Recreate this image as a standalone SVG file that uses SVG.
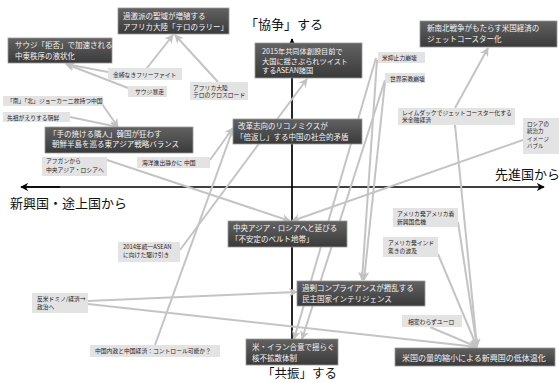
<svg xmlns="http://www.w3.org/2000/svg" width="559" height="383" viewBox="0 0 559 383">
<defs>
<linearGradient id="dg" x1="0" y1="0" x2="0" y2="1">
<stop offset="0" stop-color="#626262"/>
<stop offset="1" stop-color="#3a3a3a"/>
</linearGradient>
<marker id="ga" viewBox="0 0 10 10" refX="9" refY="5" markerWidth="9" markerHeight="9" markerUnits="userSpaceOnUse" orient="auto">
<path d="M0,0 L10,5 L0,10 L3,5 z" fill="#c2c2c2"/>
</marker>
<marker id="ka" viewBox="0 0 10 10" refX="9" refY="5" markerWidth="8" markerHeight="8" markerUnits="userSpaceOnUse" orient="auto">
<path d="M0,0 L10,5 L0,10 L3,5 z" fill="#000"/>
</marker>
</defs>
<style>
.dark{fill:url(#dg);stroke:#9a9a9a;stroke-width:0.8}
.light{fill:#e3e3e3}
.dt{font-family:"Noto Sans CJK JP","Noto Sans",sans-serif;font-size:7.5px;fill:#f4f4f4}
.lt{font-family:"Noto Sans CJK JP","Noto Sans",sans-serif;font-size:5.8px;fill:#222}
.ax{font-family:"Noto Sans CJK JP","Noto Sans",sans-serif;font-size:13px;fill:#111}
.conn line{stroke:#c4c4c4;stroke-width:2;marker-end:url(#ga)}
.axis line{stroke:#000;stroke-width:1.7}
</style>
<rect width="559" height="383" fill="#fff"/>

<g id="axes" class="axis">
<line x1="292" y1="365" x2="292" y2="39" marker-end="url(#ka)"/>
<line x1="24" y1="187" x2="544" y2="187" marker-end="url(#ka)"/>
<line x1="60" y1="187" x2="21" y2="187" marker-end="url(#ka)"/>
</g>
<text class="ax" x="245" y="29">「協争」する</text>
<text class="ax" x="262" y="378" style="font-size:12.5px">「共振」する</text>
<text class="ax" x="10" y="208">新興国・途上国から</text>
<text class="ax" x="495" y="179">先進国から</text>

<g id="connectors" class="conn">
<line x1="147" y1="68" x2="173" y2="35"/>
<line x1="218" y1="82" x2="175" y2="35"/>
<line x1="108" y1="72" x2="66" y2="64"/>
<line x1="128" y1="88" x2="66" y2="64"/>
<line x1="100" y1="101" x2="118" y2="127"/>
<line x1="70" y1="117" x2="118" y2="127"/>
<line x1="210" y1="160" x2="233" y2="128"/>
<line x1="155" y1="345" x2="233" y2="129"/>
<line x1="180" y1="250" x2="307" y2="79"/>
<line x1="107" y1="160" x2="290" y2="221"/>
<line x1="523" y1="140" x2="292" y2="221"/>
<line x1="88" y1="301" x2="297" y2="292"/>
<line x1="88" y1="304" x2="477" y2="347"/>
<line x1="376" y1="58" x2="294" y2="339"/>
<line x1="385" y1="80" x2="302" y2="339"/>
<line x1="377" y1="60" x2="362" y2="280"/>
<line x1="385" y1="82" x2="364" y2="280"/>
<line x1="455" y1="108" x2="488" y2="48"/>
<line x1="455" y1="125" x2="477" y2="347"/>
<line x1="458" y1="222" x2="477" y2="347"/>
<line x1="438" y1="254" x2="477" y2="347"/>
<line x1="430" y1="327" x2="477" y2="347"/>
</g>

<g id="n1"><rect class="dark" x="118" y="8" width="111" height="26"/><text class="dt" x="123" y="19">過激派の聖域が増殖する</text><text class="dt" x="123" y="29.5">アフリカ大陸「テロのラリー」</text></g>
<g id="n2"><rect class="dark" x="8" y="38" width="104" height="25"/><text class="dt" x="15" y="48">サウジ「拒否」で加速される</text><text class="dt" x="15" y="58.5">中東秩序の液状化</text></g>
<g id="n3"><rect class="dark" x="255" y="43" width="107" height="35"/><text class="dt" x="262" y="54" style="font-size:7.2px">2015年共同体創設目前で</text><text class="dt" x="262" y="63.5" style="font-size:7.2px">大国に揺さぶられツイスト</text><text class="dt" x="262" y="73" style="font-size:7.2px">するASEAN諸国</text></g>
<g id="n4"><rect class="dark" x="420" y="21" width="137" height="26"/><text class="dt" x="427" y="31">新南北戦争がもたらす米国経済の</text><text class="dt" x="427" y="41.5">ジェットコースター化</text></g>
<g id="n5"><rect class="dark" x="45" y="127" width="148" height="26"/><text class="dt" x="49" y="136.5">「手の焼ける隣人」韓国が狂わす</text><text class="dt" x="52" y="147">朝鮮半島を巡る東アジア戦略バランス</text></g>
<g id="n6"><rect class="dark" x="233" y="119" width="129" height="25"/><text class="dt" x="238" y="129">改革志向のリコノミクスが</text><text class="dt" x="236" y="140">「倍返し」する中国の社会的矛盾</text></g>
<g id="n7"><rect class="dark" x="228" y="221" width="119" height="26"/><text class="dt" x="233" y="231">中央アジア・ロシアへと延びる</text><text class="dt" x="231" y="242">「不安定のベルト地帯」</text></g>
<g id="n8"><rect class="dark" x="297" y="281" width="128" height="25"/><text class="dt" x="302" y="291">過剰コンプライアンスが攪乱する</text><text class="dt" x="302" y="302">民主国家インテリジェンス</text></g>
<g id="n9"><rect class="dark" x="246" y="339" width="92" height="26"/><text class="dt" x="252" y="350">米・イラン合意で揺らぐ</text><text class="dt" x="252" y="360.5">核不拡散体制</text></g>
<g id="n10"><rect class="dark" x="395" y="348" width="160" height="18"/><text class="dt" x="402" y="360.5" style="font-size:8px">米国の量的縮小による新興国の低体温化</text></g>

<g id="l1"><rect class="light" x="108" y="68" width="74" height="12"/><text class="lt" x="113" y="76.5">金縛なきフリーファイト</text></g>
<g id="l2"><rect class="light" x="128" y="86" width="39" height="11"/><text class="lt" x="135" y="93.5">サウジ暴走</text></g>
<g id="l3"><rect class="light" x="190" y="82" width="58" height="18"/><text class="lt" x="193" y="89.5">アフリカ大陸</text><text class="lt" x="193" y="97">テロのクロスロード</text></g>
<g id="l4"><rect class="light" x="3" y="96" width="100" height="10"/><text class="lt" x="7" y="103">「南」「北」ジョーカー二枚持つ中国</text></g>
<g id="l5"><rect class="light" x="3" y="112" width="67" height="10"/><text class="lt" x="7" y="119.5">先祖がえりする朝鮮</text></g>
<g id="l6"><rect class="light" x="42" y="157" width="65" height="19"/><text class="lt" x="46" y="163">アフガンから</text><text class="lt" x="46" y="171.5">中央アジア・ロシアへ</text></g>
<g id="l7"><rect class="light" x="137" y="157" width="73" height="11"/><text class="lt" x="142" y="164.5">海洋進出静かに 中国</text></g>
<g id="l8"><rect class="light" x="378" y="52" width="47" height="11"/><text class="lt" x="382" y="60">米抑止力崩壊</text></g>
<g id="l9"><rect class="light" x="385" y="73" width="40" height="10"/><text class="lt" x="390" y="80.5">世界宗教崩壊</text></g>
<g id="l10"><rect class="light" x="398" y="108" width="117" height="17"/><text class="lt" x="402" y="114.5">レイムダックでジェットコースター化する</text><text class="lt" x="402" y="122">米金融経済</text></g>
<g id="l11"><rect class="light" x="523" y="118" width="36" height="36"/><text class="lt" x="527" y="125.5" style="font-size:5.5px">ロシアの</text><text class="lt" x="527" y="133" style="font-size:5.5px">統治力</text><text class="lt" x="527" y="140.5" style="font-size:5.5px">イメージ</text><text class="lt" x="527" y="148" style="font-size:5.5px">バブル</text></g>
<g id="l12"><rect class="light" x="393" y="208" width="65" height="19"/><text class="lt" x="397" y="216">アメリカ発アメリカ着</text><text class="lt" x="397" y="223.5">新興国危機</text></g>
<g id="l13"><rect class="light" x="383" y="237" width="55" height="20"/><text class="lt" x="388" y="245">アメリカ発インド</text><text class="lt" x="388" y="252.5">驚きの波及</text></g>
<g id="l14"><rect class="light" x="402" y="315" width="60" height="12"/><text class="lt" x="408" y="323.5">相変わらずユーロ</text></g>
<g id="l15"><rect class="light" x="118" y="242" width="62" height="20"/><text class="lt" x="123" y="249">2014年統一ASEAN</text><text class="lt" x="123" y="257">に向けた駆け引き</text></g>
<g id="l16"><rect class="light" x="32" y="293" width="56" height="20"/><text class="lt" x="37" y="301">反米ドミノ/経済→</text><text class="lt" x="37" y="308.5">政治へ</text></g>
<g id="l17"><rect class="light" x="90" y="345" width="130" height="12"/><text class="lt" x="95" y="353">中国内政と中国経済：コントロール可能か？</text></g>
</svg>
